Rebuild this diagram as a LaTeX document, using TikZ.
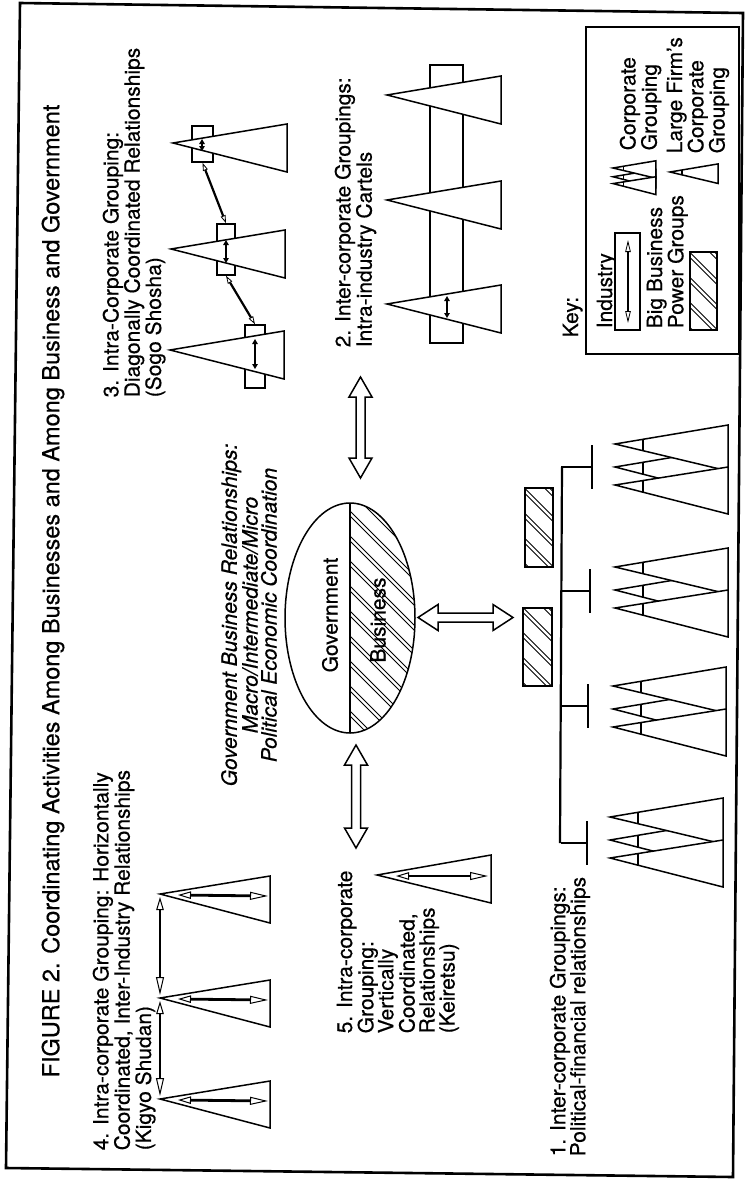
\documentclass[tikz,border=0pt]{standalone}
\usepackage{fontspec}
\setmainfont{TeX Gyre Heros}[FakeBold=0.5]
\usetikzlibrary{arrows.meta,calc}

% open block arrows with a head at both ends
\newcommand{\vblockarrow}[2]{%
  \draw[bigarrow] (#1) -- ++(11.5,20) -- ++(-7,0) -- ($(#2)+(4.5,-20)$)
    -- ++(7,0) -- (#2) -- ++(-11.5,-20) -- ++(7,0) -- ($(#1)+(-4.5,20)$)
    -- ++(-7,0) -- cycle;}
\newcommand{\hblockarrow}[2]{%
  \draw[bigarrow] (#1) -- ++(20,-13) -- ++(0,8.5) -- ($(#2)+(-20,-4.5)$)
    -- ++(0,-8.5) -- (#2) -- ++(-20,13) -- ++(0,-8.5) -- ($(#1)+(20,4.5)$)
    -- ++(0,8.5) -- cycle;}
% pairs of diagonal lines round a coordinate (clip before use)
\newcommand{\hatchpairs}[1]{%
  \foreach \s in {-175,-150,...,175}{%
    \draw[hatch] ($(#1)+(-150,\s-150)$) -- ++(300,300);
    \draw[hatch] ($(#1)+(-150,\s-145)$) -- ++(300,300);}}

\begin{document}
\begin{tikzpicture}[x=1pt, y=-1pt, line width=1.5pt]
  \tikzset{
    firm/.style={draw, fill=white, line width=1.5pt},
    tick/.style={line width=1.5pt},
    hatch/.style={line width=1pt},
    indbox/.style={draw, fill=white, inner sep=0pt, line width=1.5pt},
    bigarrow/.style={draw, fill=white, line width=1.5pt},
    tree/.style={line width=2.2pt},
    bar/.style={line width=2.8pt},
    lbl/.style={rotate=90, anchor=north west, align=left, inner sep=0pt,
      font=\fontsize{21}{20}\selectfont},
    fatarrow/.style={line width=2.8pt,
      {Triangle[fill=white,length=13pt,width=7.5pt,line width=1pt]}-{Triangle[fill=white,length=18pt,width=8pt,line width=1pt]}},
    linkarrow/.style={line width=2.2pt,
      {Triangle[fill=white,length=8pt,width=5pt,line width=0.8pt]}-{Triangle[fill=white,length=8pt,width=5pt,line width=0.8pt]}},
    innerarrow/.style={line width=1.8pt,
      {Triangle[length=5pt,width=5.5pt]}-{Triangle[length=5pt,width=5.5pt]}},
    keyarrow/.style={line width=1.6pt,
      {Triangle[fill=white,length=12pt,width=5.5pt,line width=0.8pt]}-{Triangle[fill=white,length=12pt,width=5.5pt,line width=0.8pt]}},
    corpgroup/.pic={
      \draw[firm] (0,23) -- (113,4) -- (113,52) -- cycle;
      \draw[firm] (0,0) -- (113,-19) -- (113,27) -- cycle;
      \draw[firm] (0,41) -- (113,23) -- (113,70) -- cycle;
      \draw[tick] (28,-4.7) -- (28,6.7) (28,18.3) -- (28,30.2) (28,36.5) -- (28,48.2);
    },
    largefirm/.pic={
      \draw[firm] (0,0) -- (113,-19) -- (113,27) -- cycle;
      \draw[tick] (28,-4.7) -- (28,6.7);
    }
  }
  \useasboundingbox (0,0) rectangle (751,1184);
  \draw[line width=2.6pt] (20,3) -- (743,13) -- (733,1177) -- (6,1168) -- cycle;

  \node[rotate=90, inner sep=0pt, font=\fontsize{23.5}{26}\selectfont] (title) at (53,591)
    {FIGURE 2. Coordinating Activities Among Businesses and Among Business and Government};

  % 4. Kigyo Shudan
  \path (160,894) coordinate (kigyo1) (160,998) coordinate (kigyo2) (160,1099) coordinate (kigyo3);
  \foreach \k in {1,2,3} {
    \draw[firm] (kigyo\k) -- ++(110,-18) -- ++(0,47) -- cycle;
    \draw[fatarrow] ($(kigyo\k)+(18,1)$) -- ($(kigyo\k)+(108,2)$);
  }
  \draw[fatarrow, shorten <=3pt, shorten >=3pt] (kigyo1) -- (kigyo2);
  \draw[fatarrow, shorten <=3pt, shorten >=3pt] (kigyo2) -- (kigyo3);
  \node[lbl] (kigyolbl) at (92,1151)
    {4. Intra-corporate Grouping: Horizontally\\Coordinated, Inter-Industry Relationships\\(Kigyo Shudan)};

  % 3. Sogo Shosha
  \node[indbox, minimum width=21pt, minimum height=36pt] (sogo1) at (202.5,144) {};
  \node[indbox, minimum width=18pt, minimum height=51pt] (sogo2) at (226,249.5) {};
  \node[indbox, minimum width=20pt, minimum height=63pt] (sogo3) at (255,356.5) {};
  \foreach \x/\y in {173/143,171/249,170/350}
    \draw[firm] (\x,\y) -- ++(114,-19) -- ++(0,48) -- cycle;
  \draw[innerarrow] (202,139) -- (202,151);
  \draw[innerarrow] (226,240) -- (226,263);
  \draw[innerarrow] (255,339) -- (255,369);
  \draw[linkarrow] (sogo1.south) -- (sogo2.north);
  \draw[linkarrow] (sogo2.south) -- (sogo3.north);
  \node[lbl] (sogolbl) at (102,398)
    {3. Intra-Corporate Grouping:\\Diagonally Coordinated Relationships\\(Sogo Shosha)};

  % 2. cartels
  \node[indbox, minimum width=33pt, minimum height=278pt] (cartel) at (446.5,204) {};
  \foreach \y in {95,200,304}
    \draw[firm] (387,\y) -- ++(114,-19) -- ++(0,48) -- cycle;
  \draw[innerarrow] (447,296) -- (447,318);
  \node[lbl] (cartellbl) at (334,348) {2. Inter-corporate Groupings:\\Intra-industry Cartels};

  % 5. Keiretsu
  \path (377,875) coordinate (keiretsu);
  \draw[firm] (keiretsu) -- ++(114,-20) -- ++(0,48) -- cycle;
  \draw[fatarrow] ($(keiretsu)+(19,1)$) -- ($(keiretsu)+(111,1)$);
  \node[lbl] (keiretsulbl) at (336,1034)
    {5. Intra-corporate\\Grouping:\\Vertically\\Coordinated,\\Relationships\\(Keiretsu)};

  % government / business
  \path (350,618) coordinate (gov) (382,618) coordinate (govhatch);
  \begin{scope}
    \clip (350,500) rectangle (420,740);
    \clip (gov) ellipse [x radius=65, y radius=115];
    \hatchpairs{govhatch}
  \end{scope}
  \draw (gov) ellipse [x radius=65, y radius=115];
  \draw (350,503) -- (350,733);
  \node[rotate=90, inner sep=0pt, font=\fontsize{21}{20}\selectfont] (govlbl) at (330,615) {Government};
  \node[rotate=90, inner sep=0pt, font=\fontsize{21}{20}\selectfont] (buslbl) at (378,620) {Business};
  \node[rotate=90, inner sep=0pt, align=center, font=\fontsize{21}{19}\selectfont\itshape] (gbrlbl) at (249,615)
    {Government Business Relationships:\\Macro/Intermediate/Micro\\Political Economic Coordination};

  \path (360.5,377) coordinate (cartelarrow) (360.5,478) coordinate (govtop)
        (356,745) coordinate (govbot) (356,848) coordinate (keiretsuarrow)
        (418,617.5) coordinate (govright) (513,617.5) coordinate (powerarrow);
  \vblockarrow{cartelarrow}{govtop}
  \vblockarrow{govbot}{keiretsuarrow}
  \hblockarrow{govright}{powerarrow}

  % 1. power groups and corporate groupings
  \node[indbox, minimum width=28pt, minimum height=79pt] (power1) at (539,527.5) {};
  \node[indbox, minimum width=29pt, minimum height=78pt] (power2) at (537.5,647) {};
  \foreach \p in {power1,power2} {
    \begin{scope}
      \clip (\p.south west) rectangle (\p.north east);
      \hatchpairs{\p.center}
    \end{scope}
  }
  \draw[tree] (562,467) -- (560,843);
  \foreach \y/\x in {467/592,591/590,706/588,843/587} {
    \draw[tree] (561,\y) -- (\x,\y);
    \draw[bar] (\x,\y-22) -- (\x,\y+22);
  }
  \foreach \x/\y in {615/444,615/567,613/686,610/817}
    \pic at (\x,\y) {corpgroup};
  \node[lbl] (politlbl) at (549,1157) {1. Inter-corporate Groupings:\\Political-financial relationships};

  % key
  \draw[line width=2pt] (586,27) rectangle (739,354);
  \node[lbl] (keylbl) at (562,338) {Key:};
  \node[lbl] (industrylbl) at (596,329) {Industry};
  \node[indbox, minimum width=25pt, minimum height=97pt] (industry) at (627.5,281.5) {};
  \draw[keyarrow] (628,240) -- (628,323);
  \node[lbl] (powerlbl) at (646,329) {Big Business\\Power Groups};
  \node[indbox, minimum width=27pt, minimum height=78pt] (powerkey) at (703.5,291) {};
  \begin{scope}
    \clip (powerkey.south west) rectangle (powerkey.north east);
    \hatchpairs{powerkey.center}
  \end{scope}
  \pic[scale=0.38] at (613,168) {corpgroup};
  \node[lbl] (corplbl) at (619,151) {Corporate\\Grouping};
  \pic[scale=0.425] at (670,172) {largefirm};
  \node[lbl] (firmlbl) at (666,154) {Large Firm's\\Corporate\\Grouping};
\end{tikzpicture}
\end{document}
